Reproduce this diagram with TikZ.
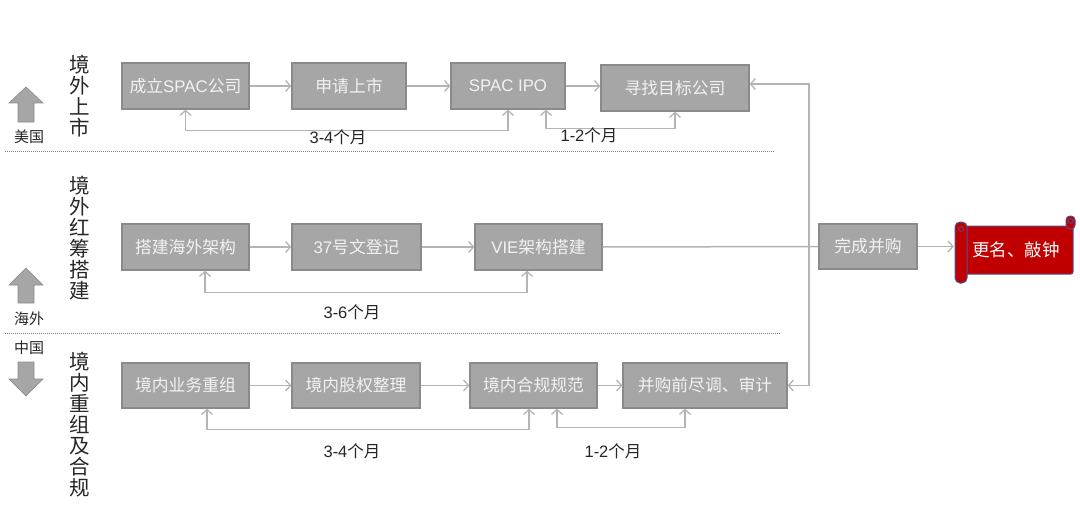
\documentclass[tikz,border=0pt]{standalone}
\usepackage{fontspec}
\setmainfont{Noto Sans CJK SC}
\newfontfamily\lat{Liberation Sans}
\usetikzlibrary{arrows.meta}
\definecolor{boxfill}{HTML}{A6A6A6}
\definecolor{boxdraw}{HTML}{8A8A8A}
\definecolor{boxtext}{HTML}{F2F2F2}
\definecolor{conn}{HTML}{B4B4B4}
\definecolor{labtext}{HTML}{262626}
\definecolor{scrollred}{HTML}{C00000}
\definecolor{scrollline}{HTML}{4F4F8F}
\begin{document}
\begin{tikzpicture}[x=1pt,y=-1pt,
  stepbox/.style={draw=boxdraw,line width=1.2pt,fill=boxfill,text=boxtext,
    font=\fontsize{16.8}{19}\selectfont,inner sep=0pt,minimum height=46pt},
  conn/.style={draw=conn,line width=1.5pt,>={Straight Barb[length=5pt,width=11pt,line width=1.3pt]}},
  dur/.style={text=labtext,font=\fontsize{16.5}{18}\selectfont},
  vlab/.style={text=labtext,align=center,font=\fontsize{20.5}{21}\selectfont,inner sep=0pt},
  smlab/.style={text=labtext,font=\fontsize{15}{16}\selectfont,inner sep=0pt},
  blockarrow/.style={fill=boxfill,draw=boxdraw,line width=0.6pt},
  sep/.style={draw=gray,line width=1pt,dash pattern=on 1pt off 1pt}
]
\useasboundingbox (0,0) rectangle (1080,511);

% separators
\draw[sep] (5,151) -- (775,151);
\draw[sep] (5,333) -- (780,333);

% left labels
\node[vlab] (v1) at (80,96.5) {境\\外\\上\\市};
\node[vlab] (v2) at (80,238.5) {境\\外\\红\\筹\\搭\\建};
\node[vlab] (v3) at (80,425) {境\\内\\重\\组\\及\\合\\规};
\node[smlab] (us) at (29,137) {美国};
\node[smlab] (hw) at (29,319) {海外};
\node[smlab] (cn) at (29,348) {中国};

% block arrows
\draw[blockarrow] (26,87) -- (43,103) -- (34,103) -- (34,122) -- (18,122) -- (18,103) -- (9,103) -- cycle;
\draw[blockarrow] (26,268) -- (43,285) -- (34,285) -- (34,303) -- (18,303) -- (18,285) -- (9,285) -- cycle;
\draw[blockarrow] (18,362) -- (34,362) -- (34,379) -- (43,379) -- (26,396) -- (9,379) -- (18,379) -- cycle;

% row 1
\node[stepbox,minimum width=127pt] (r1a) at (185.5,86) {成立{\lat SPAC}公司};
\node[stepbox,minimum width=114pt] (r1b) at (349,86) {申请上市};
\node[stepbox,minimum width=114pt] (r1c) at (508,86) {{\lat SPAC IPO}};
\node[stepbox,minimum width=148pt] (r1d) at (675,88) {寻找目标公司};

% row 2
\node[stepbox,minimum width=127pt] (r2a) at (185.5,247) {搭建海外架构};
\node[stepbox,minimum width=129pt] (r2b) at (356.5,247) {{\lat 37}号文登记};
\node[stepbox,minimum width=127pt] (r2c) at (538.5,247) {{\lat VIE}架构搭建};
\node[stepbox,minimum width=98pt,minimum height=45pt] (r2d) at (868,246.5) {完成并购};

% row 3
\node[stepbox,minimum width=127pt,minimum height=45pt] (r3a) at (185.5,385.5) {境内业务重组};
\node[stepbox,minimum width=128pt,minimum height=45pt] (r3b) at (356,385.5) {境内股权整理};
\node[stepbox,minimum width=127pt,minimum height=45pt] (r3c) at (533.5,385.5) {境内合规规范};
\node[stepbox,minimum width=164pt,minimum height=45pt] (r3d) at (705,385.5) {并购前尽调、审计};

% scroll
\fill[scrollred,draw=scrollline,line width=1pt,rounded corners=2pt] (961,226) rectangle (1073,274);
\fill[scrollred,draw=scrollline,line width=1pt,rounded corners=4pt] (1066,216) rectangle (1075,229);
\fill[scrollred,draw=scrollline,line width=1pt,rounded corners=5pt] (955,222) rectangle (967,283);
\draw[scrollline,line width=0.8pt] (961,229) circle (2.5pt);
\draw[scrollline,line width=0.8pt] (1070.5,221) circle (2.5pt);
\node[text=white,font=\fontsize{17.5}{19}\selectfont,minimum width=110pt,minimum height=47pt,inner sep=0pt] (sc) at (1016,250) {更名、敲钟};

% flow arrows
\draw[conn,->] (r1a.east) -- (r1b.west);
\draw[conn,->] (r1b.east) -- (r1c.west);
\draw[conn,->] (r1c.east) -- (r1c.east -| r1d.west);
\draw[conn,->] (r2a.east) -- (r2b.west);
\draw[conn,->] (r2b.east) -- (r2c.west);
\draw[conn] (r2c.east) -- (r2d.west);
\draw[conn,->] (r2d.east) -- ([xshift=-7pt]r2d.east -| sc.west);
\draw[conn,->] (r3a.east) -- (r3b.west);
\draw[conn,->] (r3b.east) -- (r3c.west);
\draw[conn,->] (r3c.east) -- (r3d.west);

% right vertical connector
\coordinate (rv) at (809,0);
\draw[conn,<->] ([yshift=4pt]r1d.east) -- ([yshift=4pt]r1d.east -| rv) -- (r3d.east -| rv) -- (r3d.east);

% duration brackets
\draw[conn,<->] (r1a.south) -- ++(0,21) -| (r1c.south);
\draw[conn,<->] ([xshift=38pt]r1c.south) -- ++(0,19) -| (r1d.south);
\node[dur] (d1) at (338,137) {{\lat 3-4}个月};
\node[dur] (d2) at (589,135) {{\lat 1-2}个月};

\draw[conn,<->] ([xshift=19.5pt]r2a.south) -- ++(0,22) -| ([xshift=-11.5pt]r2c.south);
\node[dur] (d3) at (352,312) {{\lat 3-6}个月};

\draw[conn,<->] ([xshift=21.5pt]r3a.south) -- ++(0,21) -| ([xshift=-4.5pt]r3c.south);
\draw[conn,<->] ([xshift=23.5pt]r3c.south) -- ++(0,19) -| ([xshift=-20pt]r3d.south);
\node[dur] (d4) at (352,451) {{\lat 3-4}个月};
\node[dur] (d5) at (613,451) {{\lat 1-2}个月};
\end{tikzpicture}
\end{document}
